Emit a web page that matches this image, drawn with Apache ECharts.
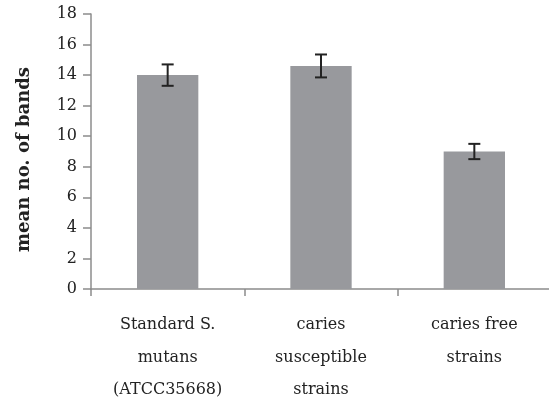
<!DOCTYPE html>
<html><head><meta charset="utf-8">
<script src="https://cdn.jsdelivr.net/npm/echarts@6/dist/echarts.min.js"></script>
<style>html,body{margin:0;padding:0;background:#fff}#c{width:549px;height:402px}</style>
</head><body><div id="c"></div>
<script>
var categories = ['Standard S.\nmutans\n(ATCC35668)', 'caries\nsusceptible\nstrains', 'caries free\nstrains'];
var means = [14.0, 14.6, 9.0];
var errors = [0.7, 0.75, 0.5];
var yTicks = [0, 2, 4, 6, 8, 10, 12, 14, 16, 18];

var chart = echarts.init(document.getElementById('c'));
var font = '"DejaVu Serif", "Liberation Serif", serif';
chart.setOption({
  animation: false,
  grid: {left: 91, top: 14, bottom: 113, width: 460, containLabel: false, outerBoundsMode: 'none'},
  xAxis: {
    type: 'category', data: categories,
    axisLine: {lineStyle: {color: '#8c8c8c', width: 1.5}},
    axisTick: {show: true, length: 7, alignWithLabel: false, lineStyle: {color: '#8c8c8c', width: 1.5}},
    axisLabel: {color: '#222', fontFamily: font, fontSize: 16, lineHeight: 32.5, margin: 20}
  },
  yAxis: {
    type: 'value', min: yTicks[0], max: yTicks[yTicks.length - 1], interval: 2,
    name: 'mean no. of bands', nameLocation: 'middle', nameGap: 58,
    nameTextStyle: {color: '#222', fontFamily: font, fontSize: 18, fontWeight: 'bold', padding: [0, 16, 0, 0]},
    axisLine: {show: true, lineStyle: {color: '#8c8c8c', width: 1.5}},
    axisTick: {show: true, length: 8, lineStyle: {color: '#8c8c8c', width: 1.5}},
    splitLine: {show: false},
    axisLabel: {color: '#222', fontFamily: font, fontSize: 16, margin: 14}
  },
  series: [{
    type: 'bar', data: means, barWidth: '40%',
    itemStyle: {color: '#98999d'}
  }, {
    type: 'custom',
    data: means.map(function (m, i) { return [i, m - errors[i], m + errors[i]]; }),
    renderItem: function (params, api) {
      var lo = api.coord([api.value(0), api.value(1)]);
      var hi = api.coord([api.value(0), api.value(2)]);
      var hw = 6;
      var st = {stroke: '#222', lineWidth: 2};
      return {type: 'group', children: [
        {type: 'line', shape: {x1: hi[0], y1: hi[1], x2: lo[0], y2: lo[1]}, style: st},
        {type: 'line', shape: {x1: hi[0] - hw, y1: hi[1], x2: hi[0] + hw, y2: hi[1]}, style: st},
        {type: 'line', shape: {x1: lo[0] - hw, y1: lo[1], x2: lo[0] + hw, y2: lo[1]}, style: st}
      ]};
    },
    z: 5
  }]
});
</script></body></html>
